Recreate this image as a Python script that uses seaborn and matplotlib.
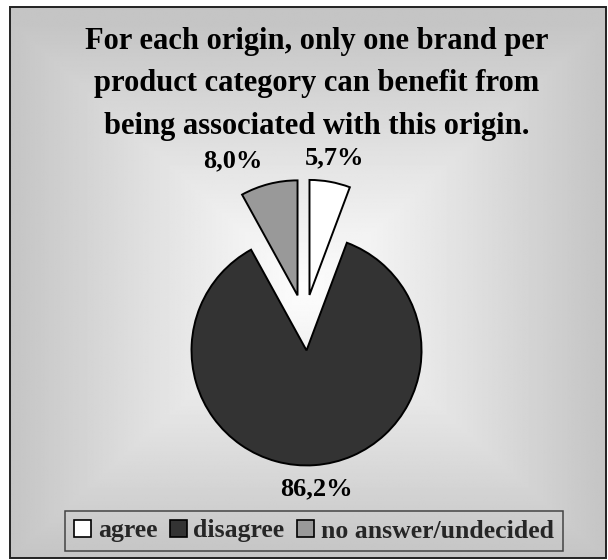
import numpy as np
import matplotlib
matplotlib.use("Agg")
import matplotlib.pyplot as plt
import seaborn as sns
from matplotlib.patches import Rectangle, Patch

# Survey answers (share of respondents, %)
categories = ["agree", "disagree", "no answer/undecided"]
shares = [5.7, 86.2, 8.0]
title_text = ("For each origin, only one brand per\n"
              "product category can benefit from\n"
              "being associated with this origin.")

sns.set_style("white")
plt.rcParams["font.family"] = ["Liberation Serif", "DejaVu Serif"]
plt.rcParams["font.weight"] = "bold"
palette = sns.color_palette(["#ffffff", "#333333", "#999999"])

W, H = 608, 560
fig = plt.figure(figsize=(W / 100, H / 100), dpi=100)
fig.patch.set_facecolor("white")

# Backdrop: framed panel with a light-centred gray gradient
bg = fig.add_axes([0, 0, 1, 1])
bg.set_xlim(0, W)
bg.set_ylim(0, H)
bg.set_axis_off()
fx0, fx1, fy0, fy1 = 10, 606, 2, 553
gx = np.linspace(fx0, fx1, 400)
gy = np.linspace(fy0, fy1, 400)
GX, GY = np.meshgrid(gx, gy)
cx, cy = 308, 270
r = np.maximum(np.abs(GX - cx) / (fx1 - cx), np.abs(GY - cy) / (cy - fy0))
r = np.clip(r, 0, 1)
shade = 0.99 - 0.22 * r ** 1.1
bg.imshow(shade, extent=[fx0, fx1, fy0, fy1], origin="lower", cmap="gray",
          vmin=0, vmax=1, aspect="auto", interpolation="bilinear", zorder=0)
bg.add_patch(Rectangle((fx0, fy0), fx1 - fx0, fy1 - fy0, fill=False,
                       edgecolor="#222222", linewidth=1.4, zorder=1))

# Title
fig.text(317 / W, 1 - 84 / H, title_text, ha="center", va="center",
         fontsize=22, fontweight="bold", linespacing=1.62, color="black")

# Pie: radius 115 px around (304, 237) px
R = 115
pcx, pcy = 304.5, H - 322.5
half = 2 * R
ax = fig.add_axes([(pcx - half) / W, (pcy - half) / H, 2 * half / W, 2 * half / H])
ax.patch.set_alpha(0)

labels = [f"{v:.1f}%".replace(".", ",") for v in shares]
wedges, texts = ax.pie(
    shares, colors=palette, startangle=90, counterclock=False,
    explode=[0.2435] * len(shares), labels=labels, labeldistance=1.21,
    wedgeprops=dict(edgecolor="black", linewidth=1.4),
    textprops=dict(fontsize=19, fontweight="bold", color="black"),
)
ax.set_xlim(-2, 2)
ax.set_ylim(-2, 2)
ax.set_axis_off()
for t in texts:
    t.set_va("center")
texts[0].set_ha("center")
texts[1].set_ha("center")
texts[2].set_ha("right")

# Legend
handles = [Patch(facecolor=c, edgecolor="black", linewidth=1.2) for c in palette]
leg = fig.legend(handles, categories, loc="center", ncol=3,
                 bbox_to_anchor=(314 / W, (H - 531) / H),
                 prop=dict(size=18.5, weight="bold"),
                 handlelength=0.66, handleheight=0.66, handletextpad=0.25,
                 columnspacing=0.5, borderpad=0.35, frameon=True, fancybox=False)
leg.get_frame().set_edgecolor("#222222")
leg.get_frame().set_linewidth(1.1)
leg.get_frame().set_facecolor("none")

fig.savefig("out.png", dpi=100)
